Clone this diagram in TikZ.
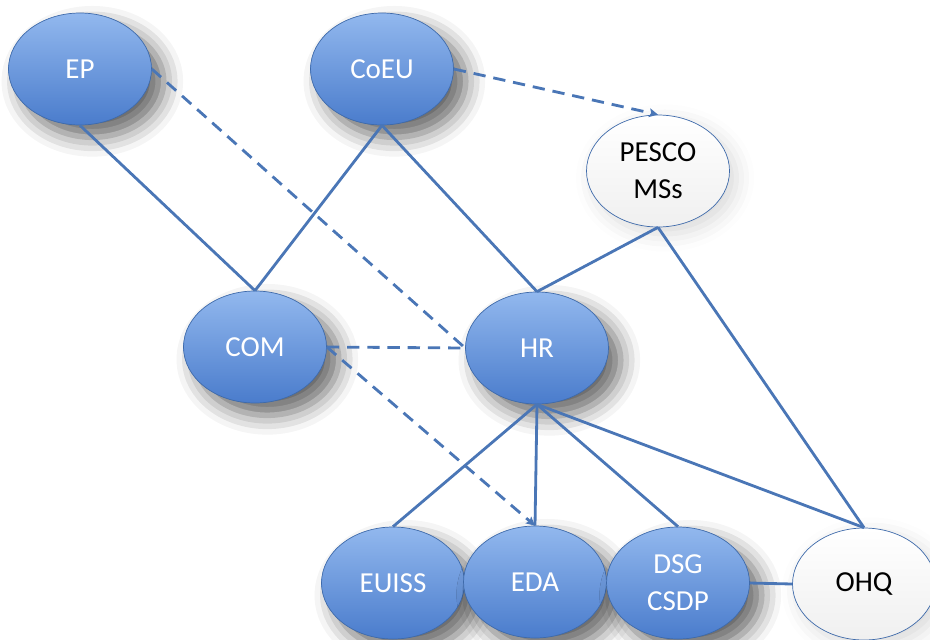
\documentclass[tikz,border=0pt]{standalone}
\usepackage{fontspec}
\setmainfont{Carlito}
\usetikzlibrary{shapes.geometric,shadows.blur,arrows.meta}
\definecolor{nodetop}{RGB}{146,184,238}
\definecolor{nodebot}{RGB}{74,124,204}
\definecolor{nodeline}{RGB}{62,106,170}
\definecolor{edgeblue}{RGB}{74,118,182}
\tikzset{ org/.style = { ellipse % blue body
        , draw = nodeline
        , thin
        , top color = nodetop
        , bottom color = nodebot
        , minimum width = 2.86cm
        , minimum height = 2.24cm
        , text = white
        , align = center
        , font = \fontsize{16.5}{21}\selectfont
        , blur shadow = {shadow xshift=7pt, shadow yshift=-7pt, shadow blur radius=11pt, shadow opacity=60}
        }
        , other/.style = { ellipse % white body
        , draw = nodeline
        , thin
        , top color = white
        , bottom color = gray!12
        , minimum width = 2.86cm
        , minimum height = 2.24cm
        , text = black
        , align = center
        , font = \fontsize{16.5}{21}\selectfont
        , blur shadow = {shadow xshift=4pt, shadow yshift=-4pt, shadow blur radius=10pt, shadow opacity=15}
        }
        }

\begin{document}
\begin{tikzpicture}[line width=1.6pt,
        edge_style/.style={draw=edgeblue},
        dashed_edge_style/.style={draw=edgeblue, dash pattern=on 7pt off 4.5pt},
        tip_style/.style={-{Stealth[length=5pt,width=5pt,inset=1pt]}}]
        \useasboundingbox (0,0) rectangle (18.6,-12.78);

        \node [org](ep) at (1.60,-1.38) {EP};
        \node [org](coeu) at (7.64,-1.38) {CoEU};
        \node [other](pesco) at (13.16,-3.42) {PESCO\\MSs};
        \node [org](com) at (5.10,-6.94) {COM};
        \node [org](hr) at (10.74,-6.96) {HR};
        \node [org](euiss) at (7.86,-11.66) {EUISS};
        \node [org](eda) at (10.70,-11.64) {EDA};
        \node [org](dsg) at (13.56,-11.66) {DSG\\CSDP};
        \node [other](ohq) at (17.28,-11.68) {OHQ};

        \draw [edge_style] (ep.south) -- (com.north);
        \draw [edge_style] (coeu.south) -- (com.north);
        \draw [edge_style] (coeu.south) -- (hr.north);
        \draw [edge_style] (pesco.south) -- (hr.north);
        \draw [edge_style] (pesco.south) -- (ohq.north);
        \draw [edge_style] (hr.south) -- (euiss.north);
        \draw [edge_style] (hr.south) -- (eda.north);
        \draw [edge_style] (hr.south) -- (dsg.north);
        \draw [edge_style] (hr.south) -- (ohq.north);
        \draw [edge_style] (dsg.east) -- (ohq.west);

        \draw [dashed_edge_style] (ep.east) -- (hr.west);
        \draw [dashed_edge_style] (com.east) -- (hr.west);
        \draw [dashed_edge_style,tip_style] (coeu.east) -- (pesco.north);
        \draw [dashed_edge_style,tip_style] (com.east) -- (eda.north);
\end{tikzpicture}
\end{document}
